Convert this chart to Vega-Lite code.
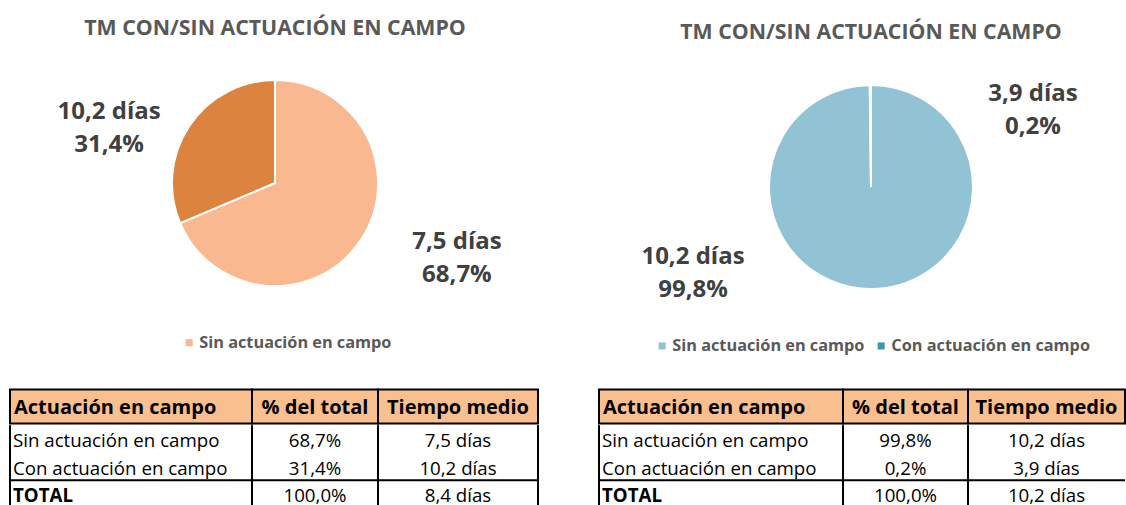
{
  "$schema": "https://vega.github.io/schema/vega-lite/v6.json",
  "padding": {"left": 9, "top": 17.5, "right": 0, "bottom": 0},
  "background": "white",
  "config": {
    "font": "Open Sans",
    "view": {"stroke": null},
    "title": {"fontSize": 21.3, "fontWeight": "bold", "color": "#595959", "baseline": "alphabetic", "offset": 11, "anchor": "middle"}
  },
  "datasets": {
    "pie_izq": [
      {"grupo": "Sin actuación en campo", "pct": 68.7, "pct_txt": "68,7%", "tiempo_txt": "7,5 días"},
      {"grupo": "Con actuación en campo", "pct": 31.4, "pct_txt": "31,4%", "tiempo_txt": "10,2 días"}
    ],
    "pie_der": [
      {"grupo": "Sin actuación en campo", "pct": 99.8, "pct_txt": "99,8%", "tiempo_txt": "10,2 días"},
      {"grupo": "Con actuación en campo", "pct": 0.2, "pct_txt": "0,2%", "tiempo_txt": "3,9 días"}
    ],
    "cab": [
      {"c1": "Actuación en campo", "c2": "% del total", "c3": "Tiempo medio"}
    ],
    "tab_izq": [
      {"c1": "Sin actuación en campo", "c2": "68,7%", "c3": "7,5 días"},
      {"c1": "Con actuación en campo", "c2": "31,4%", "c3": "10,2 días"},
      {"c1": "TOTAL", "c2": "100,0%", "c3": "8,4 días"}
    ],
    "tab_der": [
      {"c1": "Sin actuación en campo", "c2": "99,8%", "c3": "10,2 días"},
      {"c1": "Con actuación en campo", "c2": "0,2%", "c3": "3,9 días"},
      {"c1": "TOTAL", "c2": "100,0%", "c3": "10,2 días"}
    ]
  },
  "spacing": 34,
  "vconcat": [
    {
      "bounds": "flush",
      "spacing": 79,
      "resolve": {"scale": {"color": "independent", "theta": "independent"}, "legend": {"color": "independent"}},
      "hconcat": [
        {
          "width": 530, "height": 265,
          "title": {"text": "TM CON/SIN ACTUACIÓN EN CAMPO"},
          "data": {"name": "pie_izq"},
          "encoding": {
            "theta": {"field": "pct", "type": "quantitative", "stack": true},
            "order": {"field": "pct", "sort": "descending"}
          },
          "layer": [
            {
              "mark": {"type": "arc", "radius": 103, "stroke": "white", "strokeWidth": 2},
              "encoding": {
                "color": {
                  "field": "grupo", "type": "nominal",
                  "scale": {"domain": ["Sin actuación en campo", "Con actuación en campo"], "range": ["#F9B890", "#DC843F"]},
                  "legend": {"title": null, "orient": "none", "legendX": 171, "legendY": 284, "direction": "horizontal", "values": ["Sin actuación en campo"], "symbolType": "square", "symbolSize": 50, "symbolStrokeWidth": 0, "labelFontSize": 16.3, "labelFontWeight": "bold", "labelColor": "#595959", "labelOffset": 2, "columnPadding": 8, "labelLimit": 400, "padding": 0}
                }
              }
            },
            {
              "mark": {"type": "text", "radius": 185.7, "thetaOffset": -0.2269, "dx": 8, "dy": -6, "fontSize": 24, "fontWeight": "bold", "fill": "#404040"},
              "encoding": {"text": {"field": "tiempo_txt"}, "detail": {"field": "grupo", "type": "nominal"}}
            },
            {
              "mark": {"type": "text", "radius": 185.7, "thetaOffset": -0.2269, "dx": 8, "dy": 27, "fontSize": 24, "fontWeight": "bold", "fill": "#404040"},
              "encoding": {"text": {"field": "pct_txt"}, "detail": {"field": "grupo", "type": "nominal"}}
            }
          ]
        },
        {
          "width": 504, "height": 273,
          "title": {"text": "TM CON/SIN ACTUACIÓN EN CAMPO", "dy": 4},
          "data": {"name": "pie_der"},
          "encoding": {
            "theta": {"field": "pct", "type": "quantitative", "stack": true},
            "order": {"field": "pct", "sort": "descending"}
          },
          "layer": [
            {
              "mark": {"type": "arc", "radius": 102, "stroke": "white", "strokeWidth": 2},
              "encoding": {
                "color": {
                  "field": "grupo", "type": "nominal",
                  "scale": {"domain": ["Sin actuación en campo", "Con actuación en campo"], "range": ["#92C3D5", "#3A98B0"]},
                  "legend": {"title": null, "orient": "none", "legendX": 35, "legendY": 287, "direction": "horizontal", "symbolType": "square", "symbolSize": 50, "symbolStrokeWidth": 0, "labelFontSize": 16.3, "labelFontWeight": "bold", "labelColor": "#595959", "labelOffset": 2, "columnPadding": 8, "labelLimit": 400, "padding": 0}
                }
              }
            },
            {
              "mark": {"type": "text", "radius": 188.5, "thetaOffset": 1.1303, "dx": -8, "dy": -11.5, "fontSize": 24, "fontWeight": "bold", "fill": "#404040"},
              "encoding": {"text": {"field": "tiempo_txt"}, "detail": {"field": "grupo", "type": "nominal"}}
            },
            {
              "mark": {"type": "text", "radius": 188.5, "thetaOffset": 1.1303, "dx": -8, "dy": 21.5, "fontSize": 24, "fontWeight": "bold", "fill": "#404040"},
              "encoding": {"text": {"field": "pct_txt"}, "detail": {"field": "grupo", "type": "nominal"}}
            }
          ]
        }
      ]
    },
    {
      "spacing": 59,
      "hconcat": [
        {
          "spacing": 0,
          "vconcat": [
            {
              "bounds": "flush",
              "spacing": 0,
              "hconcat": [
                {"width": 242, "height": 34, "data": {"name": "cab"}, "view": {"fill": "#FABF8F", "stroke": "black", "strokeWidth": 2},
                 "mark": {"type": "text", "align": "left", "dx": 4, "dy": 1, "fontSize": 20, "fontWeight": "bold", "fill": "black"},
                 "encoding": {"x": {"datum": 0, "type": "quantitative", "scale": {"domain": [0, 1]}, "axis": null}, "text": {"field": "c1"}}},
                {"width": 126, "height": 34, "data": {"name": "cab"}, "view": {"fill": "#FABF8F", "stroke": "black", "strokeWidth": 2},
                 "mark": {"type": "text", "dy": 1, "fontSize": 20, "fontWeight": "bold", "fill": "black"},
                 "encoding": {"text": {"field": "c2"}}},
                {"width": 160, "height": 34, "data": {"name": "cab"}, "view": {"fill": "#FABF8F", "stroke": "black", "strokeWidth": 2},
                 "mark": {"type": "text", "dy": 1, "fontSize": 20, "fontWeight": "bold", "fill": "black"},
                 "encoding": {"text": {"field": "c3"}}}
              ]
            },
            {
              "bounds": "flush",
              "spacing": 0,
              "hconcat": [
                {
                  "width": 242, "height": 82, "data": {"name": "tab_izq"},
                  "layer": [
                    {"mark": {"type": "rule", "color": "black", "strokeWidth": 2},
                     "encoding": {"x": {"datum": 0, "type": "quantitative", "scale": {"domain": [0, 1]}, "axis": null}}},
                    {"transform": [{"filter": "datum.c1 == 'TOTAL'"}],
                     "mark": {"type": "rule", "color": "black", "strokeWidth": 2},
                     "encoding": {"y": {"field": "c1", "type": "nominal", "bandPosition": 0, "scale": {"type": "band", "domain": ["Sin actuación en campo", "Con actuación en campo", "TOTAL"], "paddingInner": 0, "paddingOuter": 0}, "axis": null}}},
                    {"transform": [{"filter": "datum.c1 != 'TOTAL'"}],
                     "mark": {"type": "text", "align": "left", "dx": 3, "dy": 2, "fontSize": 18.7, "fill": "black"},
                     "encoding": {"x": {"datum": 0, "type": "quantitative", "scale": {"domain": [0, 1]}, "axis": null}, "y": {"field": "c1", "type": "nominal", "scale": {"type": "band", "domain": ["Sin actuación en campo", "Con actuación en campo", "TOTAL"], "paddingInner": 0, "paddingOuter": 0}, "axis": null}, "text": {"field": "c1"}}},
                    {"transform": [{"filter": "datum.c1 == 'TOTAL'"}],
                     "mark": {"type": "text", "align": "left", "dx": 3, "dy": 2, "fontSize": 18.7, "fontWeight": "bold", "fill": "black"},
                     "encoding": {"x": {"datum": 0, "type": "quantitative", "scale": {"domain": [0, 1]}, "axis": null}, "y": {"field": "c1", "type": "nominal", "scale": {"type": "band", "domain": ["Sin actuación en campo", "Con actuación en campo", "TOTAL"], "paddingInner": 0, "paddingOuter": 0}, "axis": null}, "text": {"field": "c1"}}}
                  ]
                },
                {
                  "width": 126, "height": 82, "data": {"name": "tab_izq"},
                  "layer": [
                    {"mark": {"type": "rule", "color": "black", "strokeWidth": 2},
                     "encoding": {"x": {"datum": 0, "type": "quantitative", "scale": {"domain": [0, 1]}, "axis": null}}},
                    {"transform": [{"filter": "datum.c1 == 'TOTAL'"}],
                     "mark": {"type": "rule", "color": "black", "strokeWidth": 2},
                     "encoding": {"y": {"field": "c1", "type": "nominal", "bandPosition": 0, "scale": {"type": "band", "domain": ["Sin actuación en campo", "Con actuación en campo", "TOTAL"], "paddingInner": 0, "paddingOuter": 0}, "axis": null}}},
                    {"mark": {"type": "text", "dy": 2, "fontSize": 18.7, "fill": "black"},
                     "encoding": {"y": {"field": "c1", "type": "nominal", "scale": {"type": "band", "domain": ["Sin actuación en campo", "Con actuación en campo", "TOTAL"], "paddingInner": 0, "paddingOuter": 0}, "axis": null}, "text": {"field": "c2"}}}
                  ]
                },
                {
                  "width": 160, "height": 82, "data": {"name": "tab_izq"},
                  "layer": [
                    {"mark": {"type": "rule", "color": "black", "strokeWidth": 2},
                     "encoding": {"x": {"datum": 0, "type": "quantitative", "scale": {"domain": [0, 1]}, "axis": null}}},
                    {"mark": {"type": "rule", "color": "black", "strokeWidth": 2},
                     "encoding": {"x": {"datum": 1, "type": "quantitative", "scale": {"domain": [0, 1]}, "axis": null}}},
                    {"transform": [{"filter": "datum.c1 == 'TOTAL'"}],
                     "mark": {"type": "rule", "color": "black", "strokeWidth": 2},
                     "encoding": {"y": {"field": "c1", "type": "nominal", "bandPosition": 0, "scale": {"type": "band", "domain": ["Sin actuación en campo", "Con actuación en campo", "TOTAL"], "paddingInner": 0, "paddingOuter": 0}, "axis": null}}},
                    {"mark": {"type": "text", "dy": 2, "fontSize": 18.7, "fill": "black"},
                     "encoding": {"y": {"field": "c1", "type": "nominal", "scale": {"type": "band", "domain": ["Sin actuación en campo", "Con actuación en campo", "TOTAL"], "paddingInner": 0, "paddingOuter": 0}, "axis": null}, "text": {"field": "c3"}}}
                  ]
                }
              ]
            }
          ]
        },
        {
          "spacing": 0,
          "vconcat": [
            {
              "bounds": "flush",
              "spacing": 0,
              "hconcat": [
                {"width": 244, "height": 34, "data": {"name": "cab"}, "view": {"fill": "#FABF8F", "stroke": "black", "strokeWidth": 2},
                 "mark": {"type": "text", "align": "left", "dx": 4, "dy": 1, "fontSize": 20, "fontWeight": "bold", "fill": "black"},
                 "encoding": {"x": {"datum": 0, "type": "quantitative", "scale": {"domain": [0, 1]}, "axis": null}, "text": {"field": "c1"}}},
                {"width": 125, "height": 34, "data": {"name": "cab"}, "view": {"fill": "#FABF8F", "stroke": "black", "strokeWidth": 2},
                 "mark": {"type": "text", "dy": 1, "fontSize": 20, "fontWeight": "bold", "fill": "black"},
                 "encoding": {"text": {"field": "c2"}}},
                {"width": 157, "height": 34, "data": {"name": "cab"}, "view": {"fill": "#FABF8F", "stroke": "black", "strokeWidth": 2},
                 "mark": {"type": "text", "dy": 1, "fontSize": 20, "fontWeight": "bold", "fill": "black"},
                 "encoding": {"text": {"field": "c3"}}}
              ]
            },
            {
              "bounds": "flush",
              "spacing": 0,
              "hconcat": [
                {
                  "width": 244, "height": 82, "data": {"name": "tab_der"},
                  "layer": [
                    {"mark": {"type": "rule", "color": "black", "strokeWidth": 2},
                     "encoding": {"x": {"datum": 0, "type": "quantitative", "scale": {"domain": [0, 1]}, "axis": null}}},
                    {"transform": [{"filter": "datum.c1 == 'TOTAL'"}],
                     "mark": {"type": "rule", "color": "black", "strokeWidth": 2},
                     "encoding": {"y": {"field": "c1", "type": "nominal", "bandPosition": 0, "scale": {"type": "band", "domain": ["Sin actuación en campo", "Con actuación en campo", "TOTAL"], "paddingInner": 0, "paddingOuter": 0}, "axis": null}}},
                    {"transform": [{"filter": "datum.c1 != 'TOTAL'"}],
                     "mark": {"type": "text", "align": "left", "dx": 3, "dy": 2, "fontSize": 18.7, "fill": "black"},
                     "encoding": {"x": {"datum": 0, "type": "quantitative", "scale": {"domain": [0, 1]}, "axis": null}, "y": {"field": "c1", "type": "nominal", "scale": {"type": "band", "domain": ["Sin actuación en campo", "Con actuación en campo", "TOTAL"], "paddingInner": 0, "paddingOuter": 0}, "axis": null}, "text": {"field": "c1"}}},
                    {"transform": [{"filter": "datum.c1 == 'TOTAL'"}],
                     "mark": {"type": "text", "align": "left", "dx": 3, "dy": 2, "fontSize": 18.7, "fontWeight": "bold", "fill": "black"},
                     "encoding": {"x": {"datum": 0, "type": "quantitative", "scale": {"domain": [0, 1]}, "axis": null}, "y": {"field": "c1", "type": "nominal", "scale": {"type": "band", "domain": ["Sin actuación en campo", "Con actuación en campo", "TOTAL"], "paddingInner": 0, "paddingOuter": 0}, "axis": null}, "text": {"field": "c1"}}}
                  ]
                },
                {
                  "width": 125, "height": 82, "data": {"name": "tab_der"},
                  "layer": [
                    {"mark": {"type": "rule", "color": "black", "strokeWidth": 2},
                     "encoding": {"x": {"datum": 0, "type": "quantitative", "scale": {"domain": [0, 1]}, "axis": null}}},
                    {"transform": [{"filter": "datum.c1 == 'TOTAL'"}],
                     "mark": {"type": "rule", "color": "black", "strokeWidth": 2},
                     "encoding": {"y": {"field": "c1", "type": "nominal", "bandPosition": 0, "scale": {"type": "band", "domain": ["Sin actuación en campo", "Con actuación en campo", "TOTAL"], "paddingInner": 0, "paddingOuter": 0}, "axis": null}}},
                    {"mark": {"type": "text", "dy": 2, "fontSize": 18.7, "fill": "black"},
                     "encoding": {"y": {"field": "c1", "type": "nominal", "scale": {"type": "band", "domain": ["Sin actuación en campo", "Con actuación en campo", "TOTAL"], "paddingInner": 0, "paddingOuter": 0}, "axis": null}, "text": {"field": "c2"}}}
                  ]
                },
                {
                  "width": 157, "height": 82, "data": {"name": "tab_der"},
                  "layer": [
                    {"mark": {"type": "rule", "color": "black", "strokeWidth": 2},
                     "encoding": {"x": {"datum": 0, "type": "quantitative", "scale": {"domain": [0, 1]}, "axis": null}}},
                    {"transform": [{"filter": "datum.c1 == 'TOTAL'"}],
                     "mark": {"type": "rule", "color": "black", "strokeWidth": 2},
                     "encoding": {"y": {"field": "c1", "type": "nominal", "bandPosition": 0, "scale": {"type": "band", "domain": ["Sin actuación en campo", "Con actuación en campo", "TOTAL"], "paddingInner": 0, "paddingOuter": 0}, "axis": null}}},
                    {"mark": {"type": "text", "dy": 2, "fontSize": 18.7, "fill": "black"},
                     "encoding": {"y": {"field": "c1", "type": "nominal", "scale": {"type": "band", "domain": ["Sin actuación en campo", "Con actuación en campo", "TOTAL"], "paddingInner": 0, "paddingOuter": 0}, "axis": null}, "text": {"field": "c3"}}}
                  ]
                }
              ]
            }
          ]
        }
      ]
    }
  ]
}
